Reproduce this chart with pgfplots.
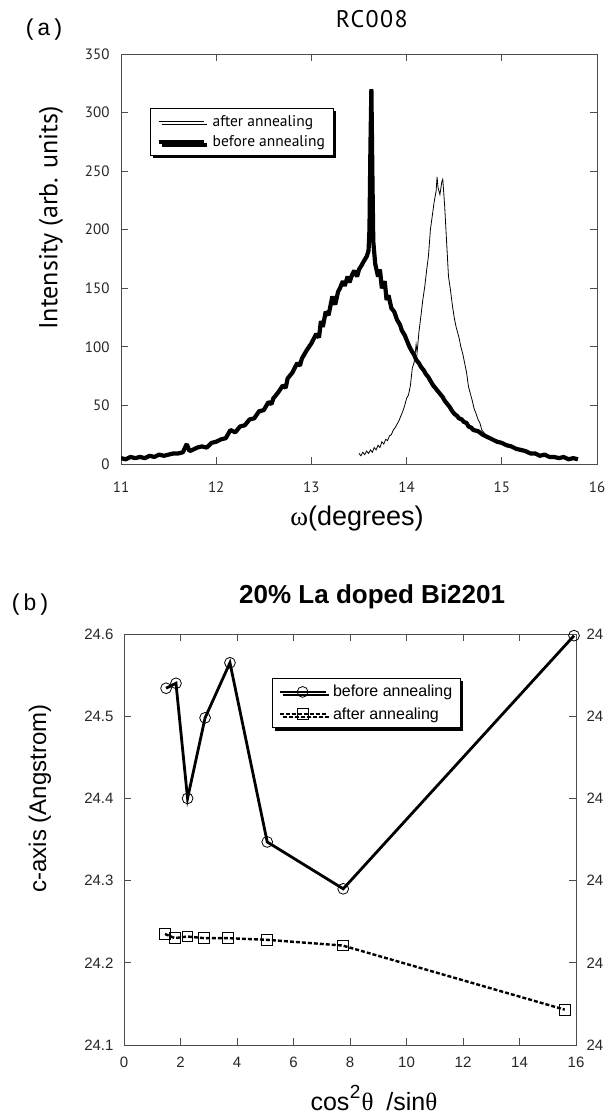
\documentclass[border=0pt]{standalone}
\usepackage{fontspec}
\usepackage{pgfplots}
\pgfplotsset{compat=1.18}
\usetikzlibrary{shadows}
\newfontfamily\myr{PT Sans}
\newfontfamily\ari{Liberation Sans}
\newfontfamily\cour{Liberation Mono}
\newfontfamily\tms{Liberation Serif}
\newcommand{\fs}[1]{\fontsize{#1}{#1}\selectfont}
\begin{document}
\begin{tikzpicture}[x=1pt,y=1pt]
\path[use as bounding box] (0pt,0pt) rectangle (606pt,1115pt);
% ---------------- panel (a)
\begin{axis}[
  at={(121pt,651pt)}, anchor=south west, scale only axis,
  width=476pt, height=410pt,
  xmin=11, xmax=16, ymin=0, ymax=350,
  xtick={11,12,13,14,15,16}, ytick={0,50,100,150,200,250,300,350},
  tick align=inside, major tick length=7pt,
  axis line style={black!70, line width=0.8pt},
  every tick/.style={black!70, line width=0.8pt},
  /pgf/number format/assume math mode=true,
  tick label style={font=\myr\fs{15}, text=black!85},
  xticklabel style={yshift=-14pt},
  yticklabel style={xshift=-8pt},
  title={\myr\fs{24}\addfontfeatures{LetterSpace=6}RC008},
  title style={at={(axis description cs:0.527,1)}, anchor=center, yshift=29pt},
  xlabel={{\tms ω}{\ari(degrees)}},
  xlabel style={at={(axis description cs:0.496,0)}, anchor=center, yshift=-55pt, font=\fs{27}},
  ylabel={Intensity (arb. units)},
  ylabel style={at={(axis description cs:-0.147,0.6)}, anchor=center, font=\myr\fs{26}},
  legend style={at={(axis description cs:0.061,0.869)}, anchor=north west,
    draw=black, line width=0.8pt, fill=white,
    drop shadow={shadow xshift=3pt, shadow yshift=-3pt, opacity=1, fill=black},
    font=\myr\fs{15.5}, inner xsep=6pt, inner ysep=5pt, row sep=4pt, cells={anchor=west},
    /tikz/every odd column/.append style={column sep=5pt}},
  legend image code/.code={\draw[#1] (0pt,0pt) -- (45pt,0pt);},
]
\addplot[black, line width=0.8pt] table {
13.50 9
13.52 7
13.54 10
13.56 8
13.58 11
13.60 9
13.62 12
13.64 10
13.66 14
13.68 12
13.70 16
13.72 14
13.74 19
13.76 17
13.78 21
13.80 20
13.82 24
13.84 25
13.86 29
13.88 31
13.90 34
13.92 37
13.94 41
13.96 45
13.98 50
14.00 56
14.02 59
14.04 67
14.06 82
14.08 87
14.10 102
14.11 95
14.13 113
14.15 126
14.17 140
14.19 151
14.21 165
14.23 178
14.25 200
14.27 212
14.29 224
14.31 233
14.32 245
14.33 236
14.35 230
14.37 241
14.38 243
14.40 220
14.42 190
14.44 160
14.46 149
14.48 136
14.50 125
14.52 117
14.55 108
14.57 100
14.59 94
14.61 86
14.63 78
14.65 66
14.67 60
14.69 54
14.71 47
14.73 43
14.75 38
14.77 35
14.79 29
14.81 27
14.83 25
14.86 23
14.89 21
14.92 20
};
\addlegendentry{after annealing}
\addplot[black, line width=4.2pt, line join=bevel] table {
11.00 5
11.05 4
11.10 6
11.15 5
11.20 6
11.25 5
11.30 7
11.35 6
11.40 8
11.45 7
11.50 8
11.55 9
11.60 9
11.65 10
11.69 17
11.72 11
11.75 12
11.80 14
11.85 15
11.90 14
11.95 18
12.00 19
12.05 21
12.10 22
12.15 29
12.20 27
12.25 32
12.30 33
12.35 38
12.40 39
12.45 45
12.50 46
12.55 53
12.58 51
12.60 56
12.65 61
12.70 67
12.73 65
12.75 73
12.80 78
12.85 86
12.88 84
12.90 90
12.95 97
13.00 103
13.05 111
13.08 108
13.10 122
13.12 117
13.15 130
13.18 127
13.20 135
13.22 143
13.25 136
13.28 147
13.30 150
13.33 156
13.35 152
13.38 160
13.40 155
13.43 162
13.45 165
13.48 160
13.50 166
13.53 170
13.55 173
13.58 177
13.60 182
13.61 200
13.62 270
13.63 320
13.64 250
13.65 190
13.67 171
13.70 160
13.72 166
13.74 150
13.77 156
13.79 140
13.81 144
13.84 133
13.87 130
13.90 123
13.93 119
13.95 114
13.98 110
14.00 106
14.03 100
14.05 97
14.08 93
14.10 89
14.13 86
14.15 83
14.18 80
14.20 77
14.23 74
14.25 71
14.28 67
14.30 65
14.33 62
14.35 60
14.38 57
14.40 54
14.43 51
14.45 49
14.48 45
14.50 43
14.53 41
14.55 39
14.58 38
14.60 36
14.63 35
14.65 32
14.68 31
14.70 29
14.75 28
14.80 25
14.85 23
14.90 21
14.95 19
15.00 18
15.05 16
15.10 15
15.15 13
15.20 12
15.25 11
15.30 9
15.35 9
15.40 7
15.45 8
15.50 6
15.55 6
15.60 5
15.65 6
15.70 4
15.75 5
15.80 4
};
\addlegendentry{before annealing}
\end{axis}
\node[font=\cour\fs{23}] at (44pt,1085pt) {(a)};
% ---------------- panel (b)
\begin{axis}[
  at={(124pt,70pt)}, anchor=south west, scale only axis,
  width=452pt, height=411pt,
  xmin=0, xmax=16, ymin=24.1, ymax=24.6,
  xtick={0,2,4,6,8,10,12,14,16}, ytick={24.1,24.2,24.3,24.4,24.5,24.6},
  yticklabel style={/pgf/number format/fixed, /pgf/number format/fixed zerofill, /pgf/number format/precision=1, xshift=-7pt},
  tick align=inside, major tick length=7pt,
  axis line style={black!70, line width=0.8pt},
  every tick/.style={black!70, line width=0.8pt},
  /pgf/number format/assume math mode=true,
  tick label style={font=\ari\fs{15}, text=black!85},
  xticklabel style={yshift=-11pt, inner sep=1pt},
  title={\ari\bfseries\fs{26}20\% La doped Bi2201},
  title style={at={(axis description cs:0.549,1)}, anchor=center, yshift=31pt},
  xlabel={\ari cos\hspace{0.5pt}\raisebox{12pt}{\fs{19}2}\hspace{1pt}{\tms θ}\hspace{13pt}/sin{\tms θ}},
  xlabel style={at={(axis description cs:0.553,0)}, anchor=base, yshift=-65pt, font=\fs{25}, inner sep=0pt},
  ylabel={c-axis (Angstrom)},
  ylabel style={at={(axis description cs:-0.186,0.6)}, anchor=center, font=\ari\fs{24}},
  legend style={at={(axis description cs:0.327,0.893)}, anchor=north west,
    draw=black, line width=0.8pt, fill=white,
    drop shadow={shadow xshift=3pt, shadow yshift=-3pt, opacity=1, fill=black},
    font=\ari\fs{16}, inner xsep=6pt, inner ysep=5pt, row sep=5pt, cells={anchor=west},
    /tikz/every odd column/.append style={column sep=4pt}},
  legend image code/.code={\draw[mark repeat=2, mark phase=2, #1] plot coordinates {(0pt,0pt) (23pt,0pt) (46pt,0pt)};},
]
\addplot[black, line width=2.8pt, mark=o, mark size=5.4pt, mark options={solid, fill=white, line width=0.8pt}] coordinates {
(1.49,24.534) (1.84,24.540) (2.25,24.400) (2.87,24.498) (3.75,24.565) (5.07,24.347) (7.76,24.290) (15.93,24.598)
};
\addlegendentry{before annealing}
\addplot[black, line width=2.4pt, dash pattern=on 4pt off 2pt, mark=square, mark size=5.3pt, mark options={solid, line width=0.8pt}] coordinates {
(1.45,24.235) (1.80,24.230) (2.24,24.232) (2.83,24.230) (3.67,24.230) (5.05,24.228) (7.74,24.221) (15.60,24.143)
};
\addlegendentry{after annealing}
\end{axis}
\begin{axis}[
  at={(124pt,70pt)}, anchor=south west, scale only axis,
  width=452pt, height=411pt,
  xmin=0, xmax=16, ymin=24.1, ymax=24.6,
  axis x line=none, axis y line*=right,
  axis line style={draw=none},
  ytick={24.1,24.2,24.3,24.4,24.5,24.6},
  yticklabels={24,24,24,24,24,24},
  ytick style={draw=none},
  yticklabel style={font=\ari\fs{15}, text=black!85, xshift=7pt},
]
\addplot[draw=none] coordinates {(1,24.3)};
\end{axis}
\node[font=\cour\fs{23}] at (30pt,510pt) {(b)};
\end{tikzpicture}
\end{document}
